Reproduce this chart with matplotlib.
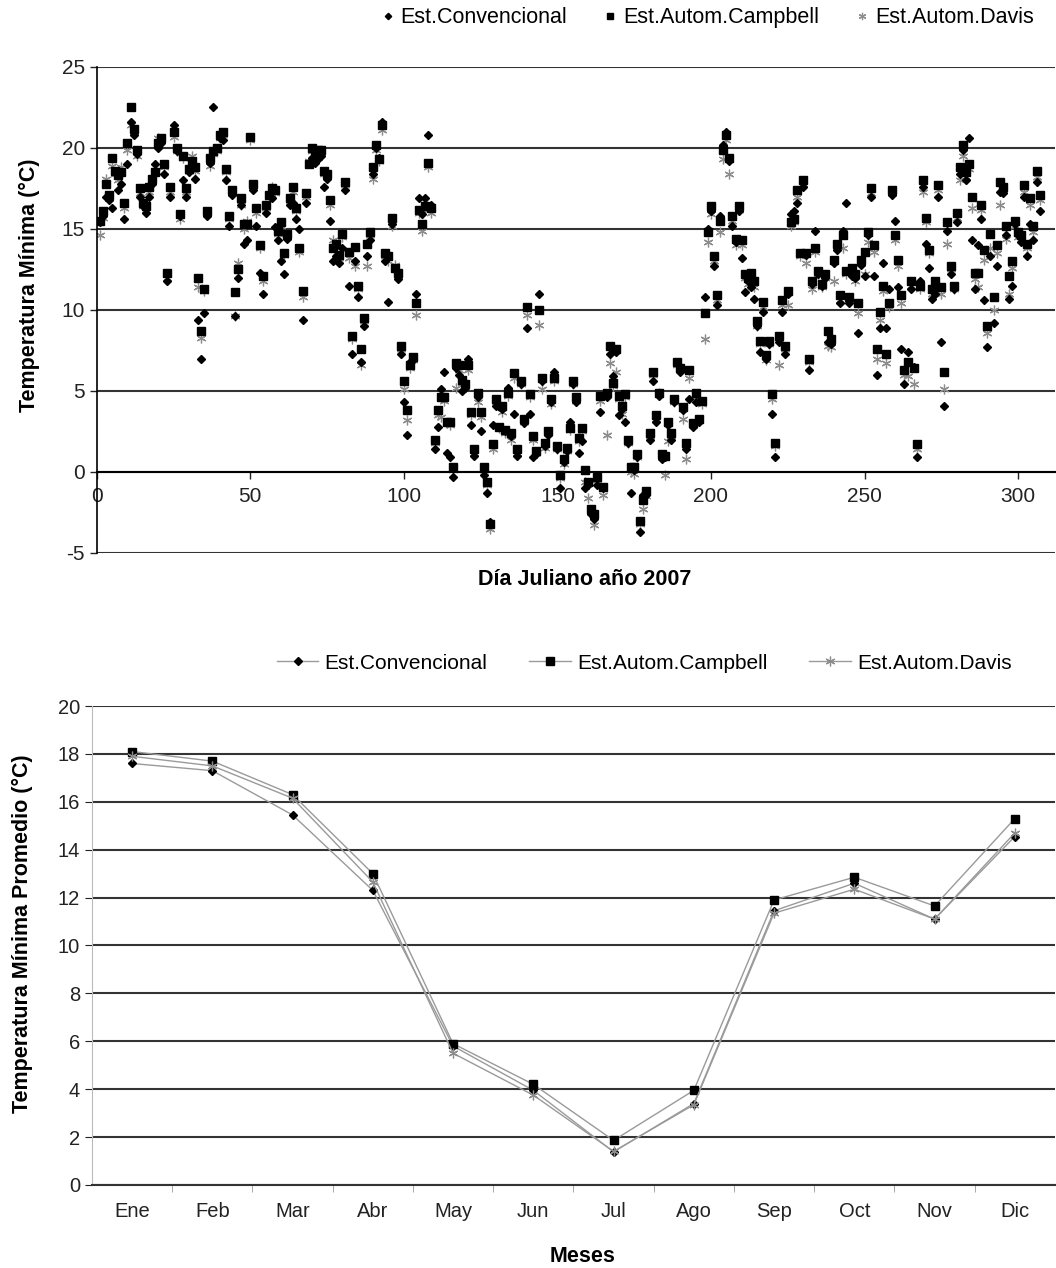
import numpy as np
import matplotlib.pyplot as plt

plt.rcParams['font.family'] = ['Liberation Sans', 'DejaVu Sans']
plt.rcParams['axes.unicode_minus'] = False

# Daily minimum temperature, Julian days 1..307 (2007)
days = np.arange(1, 308)

conv = [15.4, 15.8, 17.0, 16.8, 16.3, 18.5, 17.4, 17.8, 15.6, 19.0,
        21.6, 20.8, 19.6, 17.0, 16.4, 16.0, 17.0, 17.8, 19.0, 20.0,
        20.3, 18.4, 11.8, 17.0, 21.4, 19.8, 15.8, 18.0, 17.0, 18.5,
        19.0, 18.1, 9.4, 7.0, 9.8, 15.8, 19.1, 22.5, 20.0, 20.6,
        20.5, 18.0, 15.2, 17.1, 9.6, 12.0, 16.5, 14.1, 14.3, 20.7,
        17.4, 15.2, 12.3, 11.0, 16.0, 17.1, 16.9, 15.1, 14.3, 13.0,
        12.2, 14.4, 16.5, 16.6, 15.6, 15.0, 9.4, 16.6, 19.1, 19.4,
        19.1, 19.3, 19.5, 17.6, 18.1, 15.5, 13.0, 13.3, 12.9, 13.8,
        17.4, 11.5, 7.3, 13.0, 10.8, 6.8, 9.0, 13.3, 14.3, 18.4,
        20.0, 19.4, 21.6, 13.0, 10.5, 15.3, 12.5, 11.9, 7.3, 4.3,
        2.3, 6.8, 6.9, 11.0, 16.9, 15.9, 16.9, 20.8, 16.5, 1.4,
        2.8, 5.1, 6.2, 1.2, 0.9, -0.3, 6.4, 6.0, 5.0, 5.2,
        7.0, 2.9, 1.0, 4.6, 2.5, -0.2, -1.3, -3.1, 2.9, 4.1,
        2.8, 3.9, 2.5, 5.2, 2.2, 3.6, 1.0, 5.4, 3.0, 8.9,
        3.6, 0.9, 1.1, 11.0, 5.6, 1.6, 2.3, 4.3, 6.2, 1.4,
        -1.0, 0.6, 1.3, 3.1, 5.4, 4.3, 1.2, 1.9, -1.0, -0.8,
        -2.6, -2.9, -0.8, 3.7, -1.0, 4.6, 7.3, 5.9, 7.4, 3.5,
        3.9, 3.1, 1.8, -1.3, 0.1, 0.9, -3.7, -1.4, -1.4, 2.0,
        5.6, 3.1, 4.7, 0.8, 0.9, 2.9, 2.0, 4.3, 6.8, 6.2,
        3.8, 1.4, 4.5, 2.8, 4.3, 3.1, 4.4, 10.8, 15.0, 16.1,
        12.7, 10.3, 15.8, 20.2, 21.0, 19.2, 15.2, 14.2, 16.1, 13.2,
        11.1, 11.8, 11.4, 10.7, 9.0, 7.4, 9.9, 7.0, 7.9, 3.6,
        0.9, 8.0, 9.9, 7.3, 11.0, 15.9, 16.1, 16.6, 13.5, 17.6,
        13.4, 6.3, 11.6, 14.9, 12.2, 11.5, 12.0, 8.0, 7.9, 12.9,
        13.7, 10.4, 14.9, 16.6, 10.4, 12.1, 12.0, 8.6, 12.8, 12.1,
        14.6, 17.0, 12.1, 6.0, 8.9, 12.9, 8.9, 11.3, 17.1, 15.5,
        11.4, 7.6, 5.4, 7.4, 11.3, 6.5, 0.9, 11.8, 17.6, 14.1,
        12.6, 10.7, 11.0, 17.0, 8.0, 4.1, 14.9, 12.2, 11.3, 15.4,
        18.4, 19.9, 18.0, 20.6, 14.3, 11.3, 14.0, 15.6, 10.6, 7.7,
        13.3, 9.2, 12.7, 17.3, 17.2, 14.6, 10.7, 11.5, 15.3, 14.6,
        14.2, 17.0, 13.3, 15.3, 14.3, 17.9, 16.1]

camp = [15.5, 16.1, 17.8, 17.1, 19.4, 18.6, 18.3, 18.5, 16.6, 20.3,
        22.5, 21.2, 19.9, 17.5, 16.6, 16.4, 17.6, 18.1, 18.5, 20.3,
        20.6, 19.0, 12.3, 17.6, 21.0, 20.0, 15.9, 19.5, 17.5, 18.7,
        19.2, 18.8, 12.0, 8.7, 11.3, 16.1, 19.4, 19.8, 20.0, 20.8,
        21.0, 18.7, 15.8, 17.4, 11.1, 12.5, 16.9, 15.3, 15.3, 20.7,
        17.8, 16.3, 14.0, 12.1, 16.5, 17.1, 17.5, 17.4, 14.9, 15.4,
        13.5, 14.7, 16.9, 17.6, 16.3, 13.8, 11.2, 17.2, 19.0, 20.0,
        19.6, 19.9, 19.9, 18.6, 18.4, 16.8, 13.8, 14.1, 13.4, 14.7,
        17.9, 13.6, 8.4, 13.9, 11.5, 7.6, 9.5, 14.1, 14.8, 18.8,
        20.2, 19.3, 21.4, 13.5, 13.3, 15.7, 12.6, 12.3, 7.8, 5.6,
        3.8, 6.6, 7.1, 10.4, 16.2, 15.3, 16.4, 19.1, 16.3, 2.0,
        3.8, 4.6, 4.6, 3.1, 3.1, 0.3, 6.7, 6.6, 5.7, 5.4,
        6.6, 3.7, 1.4, 4.9, 3.7, 0.3, -0.6, -3.2, 1.7, 4.5,
        2.8, 4.1, 2.6, 4.9, 2.4, 6.1, 1.4, 5.6, 3.3, 10.2,
        4.8, 2.2, 1.3, 10.0, 5.8, 1.8, 2.5, 4.5, 5.8, 1.6,
        -0.2, 0.8, 1.5, 2.7, 5.6, 4.6, 2.1, 2.7, 0.1, -0.6,
        -2.3, -2.6, -0.3, 4.7, -0.9, 4.9, 7.8, 5.5, 7.6, 4.7,
        4.1, 4.8, 2.0, 0.3, 0.3, 1.1, -3.0, -1.7, -1.2, 2.4,
        6.2, 3.5, 4.9, 1.1, 1.0, 3.1, 2.4, 4.5, 6.8, 6.4,
        4.0, 1.8, 6.3, 3.0, 4.9, 3.3, 4.4, 9.8, 14.8, 16.4,
        13.3, 10.9, 15.5, 19.9, 20.8, 19.4, 15.8, 14.4, 16.4, 14.3,
        12.2, 12.0, 12.3, 11.8, 9.3, 8.1, 10.5, 7.2, 8.1, 4.8,
        1.8, 8.4, 10.6, 7.8, 11.2, 15.4, 15.6, 17.4, 13.5, 18.0,
        13.5, 7.0, 11.8, 13.8, 12.4, 11.6, 12.2, 8.7, 8.2, 13.1,
        14.1, 10.9, 14.6, 12.4, 10.8, 12.6, 12.2, 10.4, 13.1, 13.6,
        14.8, 17.5, 14.0, 7.6, 9.9, 11.5, 7.3, 10.4, 17.4, 14.6,
        13.1, 10.9, 6.3, 6.8, 11.8, 6.4, 1.7, 11.5, 18.0, 15.7,
        13.7, 11.3, 11.8, 17.7, 11.4, 6.2, 15.4, 12.7, 11.5, 16.0,
        18.8, 20.2, 18.5, 19.0, 17.0, 12.3, 12.3, 16.5, 13.7, 9.0,
        14.7, 10.8, 14.0, 17.9, 17.6, 15.2, 12.1, 13.0, 15.5, 14.8,
        14.6, 17.7, 14.1, 16.9, 15.2, 18.6, 17.1]

davis = [14.6, 15.7, 18.1, 16.9, 18.9, 18.4, 18.0, 18.8, 16.3, 19.9,
         21.4, 21.0, 19.5, 17.2, 16.4, 16.2, 17.3, 17.9, 18.6, 20.6,
         20.5, 18.8, 12.0, 17.3, 20.7, 19.8, 15.6, 19.4, 17.3, 18.6,
         19.5, 18.6, 11.4, 8.3, 11.2, 15.9, 18.9, 19.6, 19.8, 20.6,
         20.8, 18.5, 15.6, 17.2, 9.6, 12.9, 16.5, 15.0, 15.5, 20.5,
         17.6, 16.0, 13.8, 11.8, 16.3, 17.0, 17.6, 17.2, 14.7, 15.2,
         13.4, 14.5, 16.7, 17.3, 16.1, 13.6, 10.8, 17.0, 19.2, 19.8,
         19.7, 19.6, 19.7, 18.4, 18.3, 16.5, 14.3, 13.9, 13.2, 14.5,
         17.7, 13.2, 8.2, 12.7, 11.3, 6.6, 9.3, 12.7, 14.6, 18.1,
         19.9, 19.2, 21.1, 13.3, 13.0, 15.2, 12.8, 12.1, 7.6, 5.1,
         3.2, 6.4, 6.9, 9.7, 16.0, 14.9, 16.2, 18.8, 16.0, 1.8,
         3.5, 3.4, 4.4, 3.0, 2.9, 0.1, 5.2, 6.3, 5.5, 5.3,
         6.3, 3.5, 1.2, 4.3, 3.4, 0.1, -0.8, -3.5, 1.4, 4.3,
         2.7, 3.7, 2.4, 4.7, 2.0, 5.8, 1.2, 5.4, 3.1, 9.7,
         4.6, 2.0, 1.2, 9.1, 5.1, 1.5, 2.4, 4.2, 5.6, 1.4,
         -0.4, 0.5, 1.3, 2.6, 5.4, 4.4, 1.9, 2.5, -0.6, -1.6,
         -2.5, -3.3, -0.5, 4.4, -1.4, 2.3, 6.7, 5.3, 6.2, 4.5,
         3.6, 4.6, 1.8, 0.0, -0.1, 0.9, -3.2, -2.3, -1.5, 2.2,
         6.0, 3.3, 4.9, 0.9, -0.2, 1.9, 2.2, 4.3, 6.6, 6.4,
         3.3, 0.8, 5.8, 2.9, 4.6, 3.2, 4.2, 8.2, 14.2, 15.9,
         13.0, 10.6, 14.8, 19.3, 20.5, 18.4, 15.5, 14.0, 16.2, 14.0,
         12.0, 11.6, 12.0, 11.4, 9.0, 7.9, 10.2, 6.9, 7.9, 4.5,
         1.6, 6.6, 10.3, 7.6, 10.3, 15.2, 15.4, 17.0, 13.3, 17.8,
         12.9, 6.8, 11.3, 13.6, 12.2, 11.4, 12.0, 7.8, 7.7, 11.8,
         13.9, 10.6, 13.8, 12.2, 10.6, 12.4, 11.8, 9.8, 12.9, 12.2,
         14.2, 17.2, 13.6, 7.0, 9.4, 11.2, 6.7, 10.2, 17.2, 14.3,
         12.7, 10.4, 6.0, 5.9, 11.5, 5.4, 1.4, 11.3, 17.3, 15.4,
         13.5, 11.0, 11.5, 17.4, 11.0, 5.1, 14.1, 12.5, 11.3, 15.7,
         18.0, 19.5, 18.2, 18.7, 16.3, 11.9, 11.4, 16.2, 13.1, 8.6,
         13.8, 10.0, 13.5, 16.5, 17.4, 14.4, 11.0, 12.6, 15.2, 14.5,
         14.3, 17.3, 13.8, 16.5, 14.8, 18.2, 16.8]

# Monthly mean minimum temperature
meses = ['Ene', 'Feb', 'Mar', 'Abr', 'May', 'Jun',
         'Jul', 'Ago', 'Sep', 'Oct', 'Nov', 'Dic']
conv_mes = [17.6, 17.3, 15.45, 12.3, 5.8, 3.95, 1.38, 3.4, 11.45, 12.6, 11.1, 14.55]
camp_mes = [18.1, 17.7, 16.3, 13.0, 5.9, 4.2, 1.86, 3.95, 11.9, 12.85, 11.65, 15.3]
davis_mes = [17.9, 17.5, 16.15, 12.65, 5.5, 3.75, 1.4, 3.35, 11.35, 12.35, 11.1, 14.7]

labels = ['Est.Convencional', 'Est.Autom.Campbell', 'Est.Autom.Davis']
grid_col = '#333333'
star = (6, 2, 0)

fig = plt.figure(figsize=(10.56, 12.68), dpi=100)

# ---------- top chart: daily scatter ----------
ax1 = fig.add_axes([0.0916, 0.5639, 0.9074, 0.3833])
ax1.plot(days, davis, linestyle='none', marker=star, ms=7, mew=0.9,
         color='#8c8c8c', label=labels[2])
ax1.plot(days, camp, linestyle='none', marker='s', ms=5.7, color='black',
         label=labels[1])
ax1.plot(days, conv, linestyle='none', marker='D', ms=4.3, color='black',
         label=labels[0])

ax1.set_xlim(0, 312)
ax1.set_ylim(-5, 25)
ax1.set_yticks(np.arange(-5, 26, 5))
ax1.set_xticks(np.arange(0, 301, 50))
ax1.yaxis.grid(True, color=grid_col, lw=1.5)
ax1.set_axisbelow(True)
ax1.spines['top'].set_visible(False)
ax1.spines['right'].set_visible(False)
ax1.spines['bottom'].set_position(('data', 0))
ax1.spines['bottom'].set_linewidth(1.5)
ax1.spines['left'].set_linewidth(1.2)
ax1.tick_params(axis='both', labelsize=15, direction='out', length=5,
                width=1, colors='#222222')
ax1.tick_params(axis='x', pad=6)

h1, l1 = ax1.get_legend_handles_labels()
fig.legend(h1[::-1], l1[::-1], loc='center', bbox_to_anchor=(0.668, 0.986),
           ncol=3, frameon=False, fontsize=15.5, markerscale=0.75,
           handletextpad=0.1, columnspacing=1.5, handlelength=1.0)

fig.text(0.554, 0.5426, 'Día Juliano año 2007', ha='center', va='center',
         fontsize=15.5, fontweight='bold')
fig.text(0.028, 0.775, 'Temperatura Mínima (°C)', ha='center', va='center',
         rotation=90, fontsize=15.5, fontweight='bold')

# ---------- bottom chart: monthly lines ----------
ax2 = fig.add_axes([0.0871, 0.0655, 0.9119, 0.3777])
x = np.arange(len(meses))
ax2.plot(x, conv_mes, color='#9a9a9a', lw=1, marker='D', ms=4.5,
         mfc='black', mec='black', label=labels[0])
ax2.plot(x, camp_mes, color='#9a9a9a', lw=1, marker='s', ms=6,
         mfc='black', mec='black', label=labels[1])
ax2.plot(x, davis_mes, color='#9a9a9a', lw=1, marker=star, ms=7, mew=0.9,
         mec='#8c8c8c', label=labels[2])

ax2.set_xlim(-0.5, 11.5)
ax2.set_ylim(0, 20)
ax2.set_yticks(np.arange(0, 21, 2))
ax2.set_xticks(x)
ax2.set_xticklabels(meses)
ax2.set_xticks(np.arange(0.5, 11.5, 1), minor=True)
ax2.yaxis.grid(True, color=grid_col, lw=1.5)
ax2.set_axisbelow(True)
for s in ['top', 'right']:
    ax2.spines[s].set_visible(False)
ax2.spines['left'].set_color('#bbbbbb')
ax2.spines['bottom'].set_color(grid_col)
ax2.spines['bottom'].set_linewidth(1.5)
ax2.tick_params(axis='y', labelsize=14.5, length=5, colors='#222222')
ax2.tick_params(axis='x', which='major', length=0, labelsize=14.5, pad=12,
                colors='#222222')
ax2.tick_params(axis='x', which='minor', length=5, color='#999999')

fig.legend(*ax2.get_legend_handles_labels(), loc='center',
           bbox_to_anchor=(0.61, 0.477), ncol=3, frameon=False, fontsize=15,
           handlelength=2.0, handletextpad=0.3, columnspacing=2.0)

fig.text(0.552, 0.0087, 'Meses', ha='center', va='center', fontsize=15.5,
         fontweight='bold')
fig.text(0.021, 0.2634, 'Temperatura Mínima Promedio (°C)', ha='center',
         va='center', rotation=90, fontsize=15.5, fontweight='bold')

fig.savefig('out.png', dpi=100)
